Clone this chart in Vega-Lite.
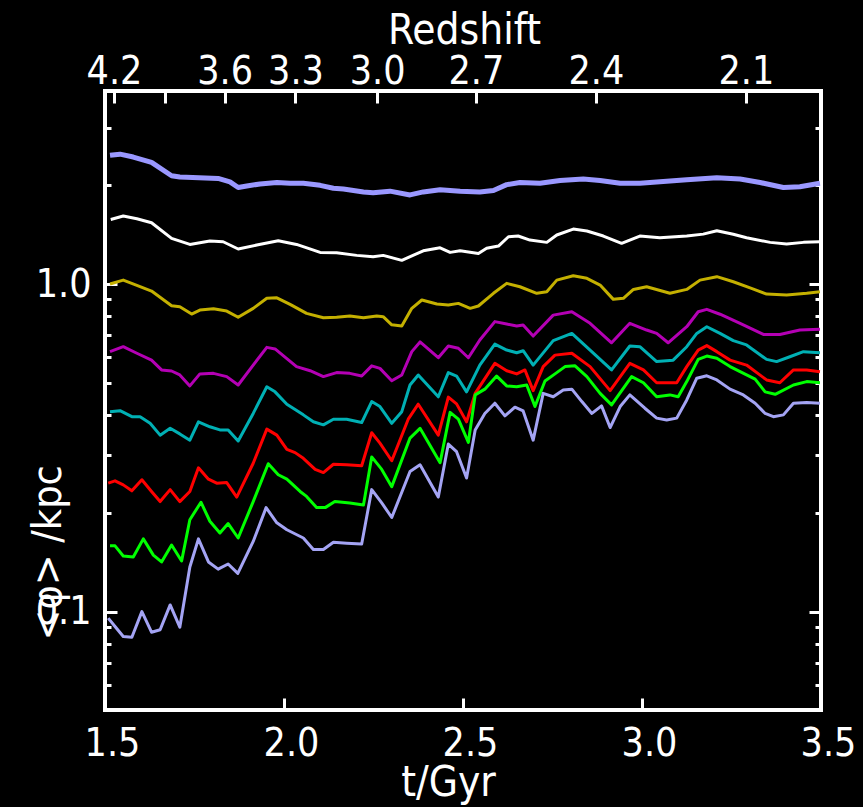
{
"$schema": "https://vega.github.io/schema/vega-lite/v6.json",
"width": 716, "height": 619,
"autosize": {"type": "none"},
"padding": {"left": 105, "top": 91, "right": 42, "bottom": 97},
"background": "black",
"config": {
 "view": {"stroke": "white", "strokeWidth": 4},
 "font": "DejaVu Sans Condensed",
 "axis": {"domain": false, "grid": false, "tickColor": "white", "tickWidth": 3, "labelColor": "white", "titleColor": "white",
  "labelFont": "DejaVu Sans Condensed", "titleFont": "DejaVu Sans Condensed", "labelFontSize": 39, "titleFontSize": 41,
  "titleFontWeight": "normal", "labelFlush": false, "labelOverlap": false, "labelBound": false}
},
"datasets": {"d": [
{"s":"1","t":1.514,"v":2.47},{"s":"1","t":1.542,"v":2.49},{"s":"1","t":1.579,"v":2.44},{"s":"1","t":1.630,"v":2.35},{"s":"1","t":1.686,"v":2.14},{"s":"1","t":1.709,"v":2.12},{"s":"1","t":1.816,"v":2.10},{"s":"1","t":1.849,"v":2.05},{"s":"1","t":1.872,"v":1.97},{"s":"1","t":1.896,"v":1.99},{"s":"1","t":1.933,"v":2.02},{"s":"1","t":1.980,"v":2.04},{"s":"1","t":2.017,"v":2.03},{"s":"1","t":2.054,"v":2.03},{"s":"1","t":2.101,"v":2.00},{"s":"1","t":2.138,"v":1.96},{"s":"1","t":2.166,"v":1.95},{"s":"1","t":2.222,"v":1.91},{"s":"1","t":2.249,"v":1.90},{"s":"1","t":2.296,"v":1.92},{"s":"1","t":2.352,"v":1.87},{"s":"1","t":2.389,"v":1.91},{"s":"1","t":2.436,"v":1.94},{"s":"1","t":2.492,"v":1.92},{"s":"1","t":2.547,"v":1.91},{"s":"1","t":2.585,"v":1.93},{"s":"1","t":2.622,"v":2.01},{"s":"1","t":2.659,"v":2.04},{"s":"1","t":2.715,"v":2.03},{"s":"1","t":2.771,"v":2.07},{"s":"1","t":2.836,"v":2.09},{"s":"1","t":2.883,"v":2.07},{"s":"1","t":2.939,"v":2.03},{"s":"1","t":2.994,"v":2.03},{"s":"1","t":3.050,"v":2.05},{"s":"1","t":3.125,"v":2.08},{"s":"1","t":3.209,"v":2.11},{"s":"1","t":3.274,"v":2.09},{"s":"1","t":3.330,"v":2.04},{"s":"1","t":3.395,"v":1.97},{"s":"1","t":3.441,"v":1.98},{"s":"1","t":3.497,"v":2.03},
{"s":"2","t":1.516,"v":1.574},{"s":"2","t":1.551,"v":1.612},{"s":"2","t":1.589,"v":1.582},{"s":"2","t":1.630,"v":1.538},{"s":"2","t":1.686,"v":1.378},{"s":"2","t":1.737,"v":1.321},{"s":"2","t":1.793,"v":1.352},{"s":"2","t":1.830,"v":1.346},{"s":"2","t":1.872,"v":1.279},{"s":"2","t":1.924,"v":1.315},{"s":"2","t":1.984,"v":1.355},{"s":"2","t":2.035,"v":1.321},{"s":"2","t":2.101,"v":1.249},{"s":"2","t":2.147,"v":1.246},{"s":"2","t":2.203,"v":1.223},{"s":"2","t":2.249,"v":1.211},{"s":"2","t":2.277,"v":1.223},{"s":"2","t":2.329,"v":1.181},{"s":"2","t":2.389,"v":1.263},{"s":"2","t":2.436,"v":1.290},{"s":"2","t":2.464,"v":1.249},{"s":"2","t":2.492,"v":1.263},{"s":"2","t":2.543,"v":1.240},{"s":"2","t":2.566,"v":1.285},{"s":"2","t":2.599,"v":1.306},{"s":"2","t":2.627,"v":1.394},{"s":"2","t":2.654,"v":1.401},{"s":"2","t":2.687,"v":1.362},{"s":"2","t":2.734,"v":1.340},{"s":"2","t":2.762,"v":1.411},{"s":"2","t":2.808,"v":1.471},{"s":"2","t":2.846,"v":1.451},{"s":"2","t":2.892,"v":1.401},{"s":"2","t":2.943,"v":1.331},{"s":"2","t":2.994,"v":1.401},{"s":"2","t":3.050,"v":1.384},{"s":"2","t":3.125,"v":1.401},{"s":"2","t":3.171,"v":1.420},{"s":"2","t":3.209,"v":1.454},{"s":"2","t":3.255,"v":1.418},{"s":"2","t":3.292,"v":1.384},{"s":"2","t":3.358,"v":1.340},{"s":"2","t":3.404,"v":1.324},{"s":"2","t":3.451,"v":1.340},{"s":"2","t":3.497,"v":1.346},
{"s":"3","t":1.514,"v":1.000},{"s":"3","t":1.551,"v":1.028},{"s":"3","t":1.589,"v":0.991},{"s":"3","t":1.630,"v":0.952},{"s":"3","t":1.686,"v":0.859},{"s":"3","t":1.709,"v":0.853},{"s":"3","t":1.742,"v":0.810},{"s":"3","t":1.765,"v":0.833},{"s":"3","t":1.803,"v":0.841},{"s":"3","t":1.840,"v":0.827},{"s":"3","t":1.872,"v":0.792},{"s":"3","t":1.914,"v":0.843},{"s":"3","t":1.952,"v":0.905},{"s":"3","t":1.980,"v":0.908},{"s":"3","t":2.017,"v":0.867},{"s":"3","t":2.063,"v":0.814},{"s":"3","t":2.110,"v":0.789},{"s":"3","t":2.147,"v":0.792},{"s":"3","t":2.184,"v":0.799},{"s":"3","t":2.222,"v":0.789},{"s":"3","t":2.259,"v":0.799},{"s":"3","t":2.277,"v":0.795},{"s":"3","t":2.301,"v":0.751},{"s":"3","t":2.329,"v":0.745},{"s":"3","t":2.357,"v":0.843},{"s":"3","t":2.385,"v":0.894},{"s":"3","t":2.427,"v":0.869},{"s":"3","t":2.459,"v":0.863},{"s":"3","t":2.487,"v":0.873},{"s":"3","t":2.520,"v":0.843},{"s":"3","t":2.543,"v":0.857},{"s":"3","t":2.585,"v":0.937},{"s":"3","t":2.622,"v":1.005},{"s":"3","t":2.659,"v":0.981},{"s":"3","t":2.706,"v":0.937},{"s":"3","t":2.734,"v":0.947},{"s":"3","t":2.762,"v":1.028},{"s":"3","t":2.808,"v":1.060},{"s":"3","t":2.846,"v":1.041},{"s":"3","t":2.883,"v":0.993},{"s":"3","t":2.920,"v":0.898},{"s":"3","t":2.948,"v":0.905},{"s":"3","t":2.976,"v":0.963},{"s":"3","t":3.013,"v":0.981},{"s":"3","t":3.078,"v":0.937},{"s":"3","t":3.125,"v":0.963},{"s":"3","t":3.162,"v":1.028},{"s":"3","t":3.209,"v":1.053},{"s":"3","t":3.255,"v":1.016},{"s":"3","t":3.302,"v":0.974},{"s":"3","t":3.348,"v":0.932},{"s":"3","t":3.404,"v":0.926},{"s":"3","t":3.460,"v":0.937},{"s":"3","t":3.497,"v":0.947},
{"s":"4","t":1.514,"v":0.622},{"s":"4","t":1.551,"v":0.644},{"s":"4","t":1.589,"v":0.615},{"s":"4","t":1.630,"v":0.586},{"s":"4","t":1.658,"v":0.547},{"s":"4","t":1.686,"v":0.543},{"s":"4","t":1.709,"v":0.528},{"s":"4","t":1.737,"v":0.489},{"s":"4","t":1.765,"v":0.532},{"s":"4","t":1.803,"v":0.534},{"s":"4","t":1.840,"v":0.522},{"s":"4","t":1.872,"v":0.492},{"s":"4","t":1.914,"v":0.566},{"s":"4","t":1.952,"v":0.641},{"s":"4","t":1.975,"v":0.634},{"s":"4","t":2.035,"v":0.560},{"s":"4","t":2.073,"v":0.544},{"s":"4","t":2.110,"v":0.522},{"s":"4","t":2.147,"v":0.537},{"s":"4","t":2.184,"v":0.534},{"s":"4","t":2.217,"v":0.524},{"s":"4","t":2.245,"v":0.563},{"s":"4","t":2.268,"v":0.553},{"s":"4","t":2.301,"v":0.507},{"s":"4","t":2.329,"v":0.528},{"s":"4","t":2.357,"v":0.622},{"s":"4","t":2.380,"v":0.666},{"s":"4","t":2.431,"v":0.596},{"s":"4","t":2.459,"v":0.647},{"s":"4","t":2.487,"v":0.637},{"s":"4","t":2.515,"v":0.596},{"s":"4","t":2.547,"v":0.675},{"s":"4","t":2.589,"v":0.768},{"s":"4","t":2.622,"v":0.755},{"s":"4","t":2.650,"v":0.745},{"s":"4","t":2.668,"v":0.750},{"s":"4","t":2.696,"v":0.694},{"s":"4","t":2.752,"v":0.804},{"s":"4","t":2.804,"v":0.823},{"s":"4","t":2.855,"v":0.759},{"s":"4","t":2.915,"v":0.662},{"s":"4","t":2.966,"v":0.759},{"s":"4","t":3.013,"v":0.724},{"s":"4","t":3.041,"v":0.707},{"s":"4","t":3.073,"v":0.662},{"s":"4","t":3.125,"v":0.741},{"s":"4","t":3.157,"v":0.823},{"s":"4","t":3.181,"v":0.837},{"s":"4","t":3.218,"v":0.809},{"s":"4","t":3.274,"v":0.759},{"s":"4","t":3.339,"v":0.702},{"s":"4","t":3.385,"v":0.702},{"s":"4","t":3.441,"v":0.724},{"s":"4","t":3.497,"v":0.728},
{"s":"5","t":1.514,"v":0.408},{"s":"5","t":1.542,"v":0.411},{"s":"5","t":1.575,"v":0.394},{"s":"5","t":1.598,"v":0.394},{"s":"5","t":1.626,"v":0.376},{"s":"5","t":1.654,"v":0.346},{"s":"5","t":1.682,"v":0.363},{"s":"5","t":1.709,"v":0.349},{"s":"5","t":1.737,"v":0.334},{"s":"5","t":1.761,"v":0.380},{"s":"5","t":1.793,"v":0.367},{"s":"5","t":1.821,"v":0.359},{"s":"5","t":1.844,"v":0.359},{"s":"5","t":1.872,"v":0.332},{"s":"5","t":1.914,"v":0.403},{"s":"5","t":1.952,"v":0.486},{"s":"5","t":1.975,"v":0.469},{"s":"5","t":2.008,"v":0.430},{"s":"5","t":2.054,"v":0.399},{"s":"5","t":2.082,"v":0.380},{"s":"5","t":2.110,"v":0.372},{"s":"5","t":2.138,"v":0.387},{"s":"5","t":2.175,"v":0.387},{"s":"5","t":2.217,"v":0.378},{"s":"5","t":2.245,"v":0.438},{"s":"5","t":2.268,"v":0.423},{"s":"5","t":2.301,"v":0.376},{"s":"5","t":2.329,"v":0.408},{"s":"5","t":2.352,"v":0.492},{"s":"5","t":2.375,"v":0.528},{"s":"5","t":2.431,"v":0.453},{"s":"5","t":2.459,"v":0.537},{"s":"5","t":2.482,"v":0.524},{"s":"5","t":2.510,"v":0.469},{"s":"5","t":2.547,"v":0.566},{"s":"5","t":2.589,"v":0.656},{"s":"5","t":2.622,"v":0.629},{"s":"5","t":2.650,"v":0.617},{"s":"5","t":2.668,"v":0.626},{"s":"5","t":2.696,"v":0.566},{"s":"5","t":2.752,"v":0.672},{"s":"5","t":2.804,"v":0.707},{"s":"5","t":2.855,"v":0.629},{"s":"5","t":2.915,"v":0.547},{"s":"5","t":2.966,"v":0.647},{"s":"5","t":2.994,"v":0.644},{"s":"5","t":3.041,"v":0.580},{"s":"5","t":3.087,"v":0.586},{"s":"5","t":3.125,"v":0.644},{"s":"5","t":3.153,"v":0.707},{"s":"5","t":3.181,"v":0.741},{"s":"5","t":3.218,"v":0.707},{"s":"5","t":3.255,"v":0.672},{"s":"5","t":3.292,"v":0.652},{"s":"5","t":3.348,"v":0.589},{"s":"5","t":3.376,"v":0.580},{"s":"5","t":3.413,"v":0.600},{"s":"5","t":3.451,"v":0.622},{"s":"5","t":3.497,"v":0.617},
{"s":"6","t":1.509,"v":0.247},{"s":"6","t":1.528,"v":0.251},{"s":"6","t":1.551,"v":0.244},{"s":"6","t":1.575,"v":0.234},{"s":"6","t":1.603,"v":0.253},{"s":"6","t":1.630,"v":0.233},{"s":"6","t":1.654,"v":0.217},{"s":"6","t":1.682,"v":0.236},{"s":"6","t":1.709,"v":0.217},{"s":"6","t":1.737,"v":0.233},{"s":"6","t":1.761,"v":0.275},{"s":"6","t":1.789,"v":0.254},{"s":"6","t":1.812,"v":0.247},{"s":"6","t":1.840,"v":0.248},{"s":"6","t":1.868,"v":0.224},{"s":"6","t":1.914,"v":0.284},{"s":"6","t":1.952,"v":0.361},{"s":"6","t":1.980,"v":0.346},{"s":"6","t":2.008,"v":0.313},{"s":"6","t":2.031,"v":0.306},{"s":"6","t":2.054,"v":0.294},{"s":"6","t":2.087,"v":0.272},{"s":"6","t":2.110,"v":0.266},{"s":"6","t":2.138,"v":0.282},{"s":"6","t":2.175,"v":0.281},{"s":"6","t":2.217,"v":0.279},{"s":"6","t":2.245,"v":0.352},{"s":"6","t":2.268,"v":0.327},{"s":"6","t":2.301,"v":0.289},{"s":"6","t":2.347,"v":0.387},{"s":"6","t":2.375,"v":0.430},{"s":"6","t":2.431,"v":0.346},{"s":"6","t":2.459,"v":0.452},{"s":"6","t":2.482,"v":0.431},{"s":"6","t":2.510,"v":0.380},{"s":"6","t":2.534,"v":0.464},{"s":"6","t":2.589,"v":0.573},{"s":"6","t":2.622,"v":0.544},{"s":"6","t":2.650,"v":0.532},{"s":"6","t":2.673,"v":0.547},{"s":"6","t":2.696,"v":0.473},{"s":"6","t":2.724,"v":0.560},{"s":"6","t":2.757,"v":0.607},{"s":"6","t":2.804,"v":0.615},{"s":"6","t":2.855,"v":0.560},{"s":"6","t":2.911,"v":0.473},{"s":"6","t":2.966,"v":0.573},{"s":"6","t":3.004,"v":0.547},{"s":"6","t":3.041,"v":0.500},{"s":"6","t":3.097,"v":0.500},{"s":"6","t":3.125,"v":0.560},{"s":"6","t":3.157,"v":0.629},{"s":"6","t":3.181,"v":0.649},{"s":"6","t":3.209,"v":0.622},{"s":"6","t":3.246,"v":0.586},{"s":"6","t":3.292,"v":0.566},{"s":"6","t":3.348,"v":0.510},{"s":"6","t":3.385,"v":0.500},{"s":"6","t":3.423,"v":0.547},{"s":"6","t":3.460,"v":0.547},{"s":"6","t":3.497,"v":0.540},
{"s":"7","t":1.514,"v":0.159},{"s":"7","t":1.528,"v":0.159},{"s":"7","t":1.551,"v":0.148},{"s":"7","t":1.579,"v":0.147},{"s":"7","t":1.607,"v":0.167},{"s":"7","t":1.635,"v":0.149},{"s":"7","t":1.658,"v":0.142},{"s":"7","t":1.686,"v":0.160},{"s":"7","t":1.714,"v":0.143},{"s":"7","t":1.737,"v":0.191},{"s":"7","t":1.768,"v":0.216},{"s":"7","t":1.793,"v":0.189},{"s":"7","t":1.821,"v":0.174},{"s":"7","t":1.844,"v":0.186},{"s":"7","t":1.872,"v":0.168},{"s":"7","t":1.914,"v":0.217},{"s":"7","t":1.956,"v":0.283},{"s":"7","t":1.984,"v":0.262},{"s":"7","t":2.008,"v":0.254},{"s":"7","t":2.045,"v":0.233},{"s":"7","t":2.063,"v":0.225},{"s":"7","t":2.091,"v":0.208},{"s":"7","t":2.115,"v":0.208},{"s":"7","t":2.142,"v":0.217},{"s":"7","t":2.184,"v":0.215},{"s":"7","t":2.222,"v":0.212},{"s":"7","t":2.245,"v":0.297},{"s":"7","t":2.273,"v":0.272},{"s":"7","t":2.301,"v":0.241},{"s":"7","t":2.352,"v":0.339},{"s":"7","t":2.380,"v":0.363},{"s":"7","t":2.436,"v":0.285},{"s":"7","t":2.464,"v":0.406},{"s":"7","t":2.487,"v":0.387},{"s":"7","t":2.515,"v":0.329},{"s":"7","t":2.534,"v":0.459},{"s":"7","t":2.561,"v":0.478},{"s":"7","t":2.594,"v":0.524},{"s":"7","t":2.622,"v":0.489},{"s":"7","t":2.650,"v":0.486},{"s":"7","t":2.678,"v":0.492},{"s":"7","t":2.701,"v":0.423},{"s":"7","t":2.729,"v":0.506},{"s":"7","t":2.757,"v":0.532},{"s":"7","t":2.785,"v":0.560},{"s":"7","t":2.813,"v":0.563},{"s":"7","t":2.846,"v":0.522},{"s":"7","t":2.883,"v":0.464},{"s":"7","t":2.915,"v":0.428},{"s":"7","t":2.971,"v":0.522},{"s":"7","t":3.004,"v":0.500},{"s":"7","t":3.041,"v":0.453},{"s":"7","t":3.078,"v":0.459},{"s":"7","t":3.101,"v":0.453},{"s":"7","t":3.125,"v":0.504},{"s":"7","t":3.157,"v":0.589},{"s":"7","t":3.181,"v":0.603},{"s":"7","t":3.209,"v":0.594},{"s":"7","t":3.246,"v":0.560},{"s":"7","t":3.316,"v":0.513},{"s":"7","t":3.344,"v":0.469},{"s":"7","t":3.372,"v":0.461},{"s":"7","t":3.423,"v":0.492},{"s":"7","t":3.460,"v":0.504},{"s":"7","t":3.497,"v":0.500},
{"s":"8","t":1.509,"v":0.0957},{"s":"8","t":1.528,"v":0.0902},{"s":"8","t":1.551,"v":0.0841},{"s":"8","t":1.575,"v":0.0837},{"s":"8","t":1.603,"v":0.1002},{"s":"8","t":1.630,"v":0.0867},{"s":"8","t":1.654,"v":0.0882},{"s":"8","t":1.682,"v":0.105},{"s":"8","t":1.709,"v":0.0898},{"s":"8","t":1.737,"v":0.137},{"s":"8","t":1.761,"v":0.167},{"s":"8","t":1.789,"v":0.142},{"s":"8","t":1.816,"v":0.135},{"s":"8","t":1.844,"v":0.140},{"s":"8","t":1.871,"v":0.131},{"s":"8","t":1.914,"v":0.164},{"s":"8","t":1.950,"v":0.208},{"s":"8","t":1.980,"v":0.187},{"s":"8","t":2.008,"v":0.178},{"s":"8","t":2.054,"v":0.168},{"s":"8","t":2.082,"v":0.155},{"s":"8","t":2.110,"v":0.155},{"s":"8","t":2.138,"v":0.163},{"s":"8","t":2.175,"v":0.162},{"s":"8","t":2.217,"v":0.161},{"s":"8","t":2.245,"v":0.236},{"s":"8","t":2.273,"v":0.215},{"s":"8","t":2.301,"v":0.194},{"s":"8","t":2.352,"v":0.268},{"s":"8","t":2.380,"v":0.281},{"s":"8","t":2.431,"v":0.224},{"s":"8","t":2.459,"v":0.325},{"s":"8","t":2.482,"v":0.308},{"s":"8","t":2.510,"v":0.256},{"s":"8","t":2.534,"v":0.359},{"s":"8","t":2.561,"v":0.403},{"s":"8","t":2.589,"v":0.433},{"s":"8","t":2.617,"v":0.396},{"s":"8","t":2.645,"v":0.421},{"s":"8","t":2.668,"v":0.410},{"s":"8","t":2.696,"v":0.334},{"s":"8","t":2.724,"v":0.464},{"s":"8","t":2.752,"v":0.453},{"s":"8","t":2.780,"v":0.475},{"s":"8","t":2.804,"v":0.478},{"s":"8","t":2.832,"v":0.438},{"s":"8","t":2.860,"v":0.403},{"s":"8","t":2.887,"v":0.425},{"s":"8","t":2.911,"v":0.365},{"s":"8","t":2.939,"v":0.423},{"s":"8","t":2.966,"v":0.459},{"s":"8","t":3.008,"v":0.418},{"s":"8","t":3.041,"v":0.390},{"s":"8","t":3.069,"v":0.385},{"s":"8","t":3.097,"v":0.390},{"s":"8","t":3.125,"v":0.443},{"s":"8","t":3.153,"v":0.516},{"s":"8","t":3.181,"v":0.525},{"s":"8","t":3.209,"v":0.510},{"s":"8","t":3.246,"v":0.478},{"s":"8","t":3.283,"v":0.459},{"s":"8","t":3.316,"v":0.433},{"s":"8","t":3.344,"v":0.403},{"s":"8","t":3.367,"v":0.394},{"s":"8","t":3.395,"v":0.399},{"s":"8","t":3.423,"v":0.433},{"s":"8","t":3.460,"v":0.435},{"s":"8","t":3.497,"v":0.433}
]},
"data": {"name": "d"},
"layer": [
 {"mark": {"type": "line", "clip": true, "strokeJoin": "round"},
  "encoding": {
   "x": {"field": "t", "type": "quantitative", "scale": {"domain": [1.5, 3.5], "nice": false, "zero": false},
    "axis": {"orient": "bottom", "values": [1.5, 2.0, 2.5, 3.0, 3.5], "format": ".1f", "tickSize": -12,
     "labelPadding": 57, "labelBaseline": "alphabetic", "labelOffset": 7,
     "title": "t/Gyr", "titleFontSize": 42, "titleX": 343, "titleY": 85, "titleBaseline": "alphabetic", "titleAlign": "center", "titleAnchor": null}},
   "y": {"field": "v", "type": "quantitative", "scale": {"type": "log", "domain": [0.0502, 3.88], "nice": false},
    "axis": {"orient": "left", "values": [0.06, 0.07, 0.08, 0.09, 0.1, 0.2, 0.3, 0.4, 0.5, 0.6, 0.7, 0.8, 0.9, 1, 2, 3],
     "labelExpr": "datum.value == 1 ? '1.0' : (datum.value == 0.1 ? '0.1' : '')",
     "tickSize": {"condition": {"test": "datum.value == 1 || datum.value == 0.1", "value": -12}, "value": -6},
     "labelPadding": 26, "labelBaseline": "middle",
     "title": "<φ> /kpc", "titleAngle": 270, "titleAlign": "left", "titleBaseline": "alphabetic", "titleX": -45, "titleY": 549, "titleAnchor": null}},
   "color": {"field": "s", "type": "nominal", "legend": null,
    "scale": {"domain": ["1","2","3","4","5","6","7","8"],
     "range": ["#9a98ff", "#ffffff", "#c4b000", "#b400b4", "#00b0b4", "#ff0000", "#00ff00", "#a4a4f4"]}},
   "strokeWidth": {"condition": {"test": "datum.s == '1'", "value": 5}, "value": 3}
  }},
 {"mark": {"type": "line", "opacity": 0},
  "encoding": {
   "x": {"field": "t", "type": "quantitative", "scale": {"domain": [1.5, 3.5], "nice": false, "zero": false},
    "axis": {"orient": "top", "values": [1.525, 1.668, 1.834, 2.032, 2.260, 2.536, 2.871, 3.290], "tickSize": -12,
     "labelExpr": "datum.value < 1.6 ? '4.2' : datum.value < 1.7 ? '' : datum.value < 1.9 ? '3.6' : datum.value < 2.1 ? '3.3' : datum.value < 2.4 ? '3.0' : datum.value < 2.6 ? '2.7' : datum.value < 3 ? '2.4' : '2.1'",
     "labelPadding": 20, "labelBaseline": "alphabetic",
     "title": "Redshift", "titleFontSize": 42, "titleX": 359, "titleY": -48, "titleBaseline": "alphabetic", "titleAlign": "center", "titleAnchor": null}},
   "y": {"field": "v", "type": "quantitative", "scale": {"type": "log", "domain": [0.0502, 3.88], "nice": false},
    "axis": {"orient": "right", "values": [0.06, 0.07, 0.08, 0.09, 0.1, 0.2, 0.3, 0.4, 0.5, 0.6, 0.7, 0.8, 0.9, 1, 2, 3],
     "labels": false, "title": null,
     "tickSize": {"condition": {"test": "datum.value == 1 || datum.value == 0.1", "value": -12}, "value": -6}}},
   "detail": {"field": "s", "type": "nominal"}
  }}
],
"resolve": {"scale": {"x": "independent", "y": "independent"}}
}
